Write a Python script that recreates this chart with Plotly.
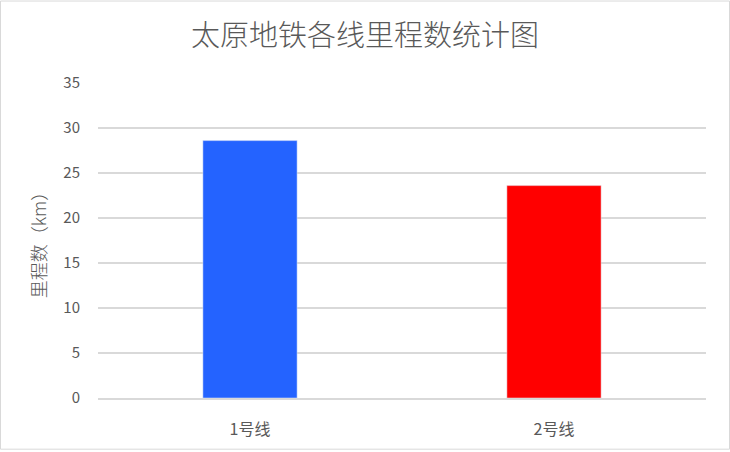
import plotly.graph_objects as go

lines = ['1号线', '2号线']
mileage = [28.6, 23.6]
colors = ['#2463FF', '#FF0000']
y_ticks = [0, 5, 10, 15, 20, 25, 30, 35]

W, H = 730, 452
L, R, T, B = 98, 24, 83, 52
pw, ph = W - L - R, H - T - B

fig = go.Figure()
fig.add_trace(go.Bar(x=lines, y=mileage, marker_color=colors, width=0.31,
                     hoverinfo='x+y'))

fig.update_layout(
    width=W, height=H,
    margin=dict(l=L, r=R, t=T, b=B),
    paper_bgcolor='white', plot_bgcolor='white',
    font=dict(family='Noto Sans CJK SC', color='#595959', size=15, weight=300),
    title=dict(text='太原地铁各线里程数统计图', x=0.5, xanchor='center',
               y=1 - 36 / H, yanchor='middle',
               font=dict(size=29, color='#595959', weight=300)),
    showlegend=False,
    # thin frame round the whole chart
    shapes=[dict(type='rect', xref='paper', yref='paper',
                 x0=-(L - 0.5) / pw, x1=1 + (R - 0.5) / pw,
                 y0=-(B - 0.5) / ph, y1=1 + (T - 0.5) / ph,
                 line=dict(color='#D9D9D9', width=1))],
)
fig.update_xaxes(showgrid=False, showline=True, linecolor='#D9D9D9',
                 linewidth=1.5,
                 ticks='outside', ticklen=16, tickcolor='rgba(0,0,0,0)',
                 tickfont=dict(size=16, weight=400))
fig.update_yaxes(range=[0, 35], tickvals=y_ticks, showgrid=True,
                 gridcolor='#D9D9D9', gridwidth=1.5, zeroline=False,
                 showline=False, ticks='outside', ticklen=14,
                 tickcolor='rgba(0,0,0,0)', tickfont=dict(size=15, weight=400),
                 title=dict(text='里程数（km）', font=dict(size=18), standoff=12))

fig.write_html("out.html", config={'displayModeBar': False},
               post_script="document.body.style.margin='0';")
